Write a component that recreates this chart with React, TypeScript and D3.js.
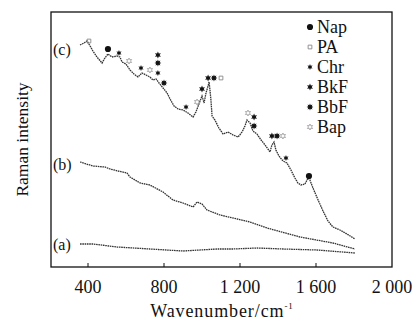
import React from "react";
import * as d3 from "d3";

// Curve (c)
const cWn = [358, 379, 395, 411, 426, 447, 474, 489, 505, 526, 553, 568, 579, 600, 621, 642, 663, 684, 705, 726, 742, 758, 774, 795, 816, 832, 853, 874, 900, 926, 953, 968, 984, 1000, 1011, 1021, 1032, 1037, 1042, 1047, 1053, 1068, 1089, 1111, 1137, 1163, 1190, 1211, 1226, 1237, 1253, 1268, 1289, 1311, 1332, 1347, 1358, 1368, 1379, 1389, 1405, 1426, 1447, 1468, 1489, 1505, 1521, 1542, 1558, 1568, 1584, 1611, 1637, 1663, 1689, 1726, 1763, 1805];
const cI = [222, 224, 226, 221, 216, 210, 204, 209, 213, 210, 211, 210, 205, 203, 197, 193, 190, 194, 192, 190, 187, 188, 184, 179, 174, 168, 161, 158, 157, 154, 150, 155, 163, 171, 164, 174, 181, 185, 177, 167, 151, 147, 139, 133, 135, 132, 130, 135, 141, 147, 144, 136, 133, 127, 122, 118, 115, 122, 125, 117, 111, 106, 104, 97, 89, 84, 82, 83, 89, 87, 79, 67, 56, 46, 40, 37, 33, 28];
// Curve (b)
const bWn = [358, 426, 489, 516, 558, 605, 621, 674, 726, 795, 847, 900, 953, 974, 1000, 1026, 1095, 1253, 1342, 1516, 1689, 1805];
const bI = [105, 101, 100, 98, 96, 94, 90, 84, 82, 75, 67, 64, 60, 65, 63, 57, 52, 45, 39, 30, 24, 18];
// Curve (a)
const aWn = [358, 426, 553, 726, 900, 1079, 1163, 1289, 1426, 1605, 1805];
const aI = [23, 23, 20, 18, 16, 18, 18, 19, 18, 17, 14];

// Peak markers
const markerSpecies = ["PA", "Nap", "Chr", "Bap", "Chr", "Bap", "BkF", "BbF", "Chr", "BbF", "Chr", "Bap", "BkF", "BkF", "BbF", "PA", "Bap", "BkF", "BbF", "BkF", "BbF", "Bap", "Chr", "Nap"];
const markerWn = [405, 505, 563, 616, 679, 726, 768, 768, 768, 800, 916, 974, 1000, 1032, 1063, 1100, 1242, 1274, 1274, 1368, 1395, 1426, 1442, 1563];
const markerI = [226, 218, 214, 206, 199, 197, 212, 204, 194, 184, 160, 165, 178, 189, 189, 189, 154, 150, 141, 131, 131, 131, 109, 91];

const legendNames = ["Nap", "PA", "Chr", "BkF", "BbF", "Bap"];
const xTicks = [400, 800, 1200, 1600, 2000];
const xTickLabels = ["400", "800", "1 200", "1 600", "2 000"];

const FONT = "'Liberation Serif', 'DejaVu Serif', 'Times New Roman', serif";
const ts = { fontFamily: FONT };

function starPath(points: number, ro: number, ri: number) {
  const pts: [number, number][] = [];
  for (let i = 0; i < points * 2; i++) {
    const r = i % 2 === 0 ? ro : ri;
    const a = (Math.PI * i) / points - Math.PI / 2;
    pts.push([r * Math.cos(a), r * Math.sin(a)]);
  }
  return d3.line()(pts)! + "Z";
}

function Marker({ sp, x, y }: { sp: string; x: number; y: number }) {
  let path = "";
  let fill = "#111";
  let stroke = "none";
  let sw = 0;
  if (sp === "Nap") path = d3.symbol().type(d3.symbolCircle).size(30)()!;
  else if (sp === "PA") {
    path = d3.symbol().type(d3.symbolSquare).size(14)()!;
    fill = "none"; stroke = "#888"; sw = 0.9;
  } else if (sp === "Chr") path = starPath(6, 3, 1.4);
  else if (sp === "BkF") path = starPath(6, 3.4, 1.7);
  else if (sp === "BbF") path = starPath(8, 3.4, 1.9);
  else {
    path = starPath(6, 3, 1.5);
    fill = "none"; stroke = "#999"; sw = 0.8;
  }
  return <path d={path} transform={`translate(${x},${y})`} fill={fill} stroke={stroke} strokeWidth={sw} />;
}

export default function App() {
  const W = 417, H = 322;
  const left = 51, right = 392, top = 12, bottom = 267;
  const x = d3.scaleLinear().domain([200, 2000]).range([50, 392]);
  const y = d3.scaleLinear().domain([0, 255]).range([bottom, top]);
  const line = d3.line<[number, number]>().x((d) => x(d[0])).y((d) => y(d[1]));
  const mk = (w: number[], v: number[]) => w.map((wv, i) => [wv, v[i]] as [number, number]);
  const curves = [mk(aWn, aI), mk(bWn, bI), mk(cWn, cI)];

  return (
    <svg width={W} height={H} style={{ display: "block", position: "absolute", left: 0, top: 0, fontFamily: FONT }}>
      <rect width={W} height={H} fill="#fff" />
      <rect x={left} y={top} width={right - left} height={bottom - top} fill="none" stroke="#111" strokeWidth={1.3} />
      {xTicks.slice(0, 4).map((t) => (
        <line key={t} x1={x(t)} x2={x(t)} y1={bottom} y2={bottom - 4} stroke="#111" strokeWidth={1} />
      ))}
      {xTicks.map((t, i) => (
        <text key={t} style={ts} x={x(t)} y={293} textAnchor="middle" fontSize={18} fill="#111">{xTickLabels[i]}</text>
      ))}
      <text style={ts} x={222} y={317} textAnchor="middle" fontSize={18} letterSpacing={0.9} fill="#111">
        Wavenumber/cm<tspan dy={-8} fontSize={9}>-1</tspan>
      </text>
      <text style={ts} transform={`translate(28,${(top + bottom) / 2}) rotate(-90)`} textAnchor="middle" fontSize={17.5} fill="#111">Raman intensity</text>
      {curves.map((c, i) => (
        <path key={i} d={line(c)!} fill="none" stroke="#333" strokeWidth={1.3} strokeDasharray="1.6,0.7" />
      ))}
      <text style={ts} x={53} y={55} fontSize={16} fill="#111">(c)</text>
      <text style={ts} x={53} y={170} fontSize={16} fill="#111">(b)</text>
      <text style={ts} x={53} y={250} fontSize={16} fill="#111">(a)</text>
      {markerSpecies.map((sp, i) => (
        <Marker key={i} sp={sp} x={x(markerWn[i])} y={y(markerI[i])} />
      ))}
      {legendNames.map((n, i) => (
        <g key={n}>
          <Marker sp={n} x={310} y={27 + i * 20} />
          <text style={ts} x={317} y={33 + i * 20} fontSize={18} fill="#111">{n}</text>
        </g>
      ))}
    </svg>
  );
}
